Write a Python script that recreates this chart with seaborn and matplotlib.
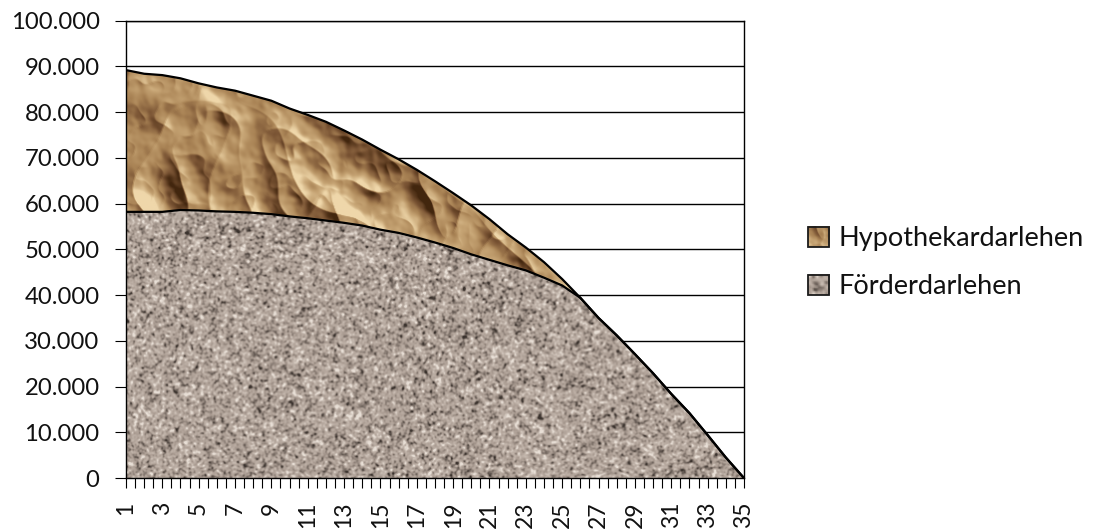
import numpy as np
import pandas as pd
import matplotlib
matplotlib.use("Agg")
import matplotlib.pyplot as plt
import seaborn as sns
from matplotlib.colors import LinearSegmentedColormap
from matplotlib.ticker import FuncFormatter, FixedLocator, MultipleLocator
from matplotlib.patches import Rectangle
from matplotlib.legend_handler import HandlerBase
from matplotlib.image import BboxImage
from matplotlib.transforms import Bbox, TransformedBbox

# ---- data: outstanding balance per year (EUR) ----
years = list(range(1, 36))
foerder = [58200, 58200, 58200, 58600, 58500, 58300, 58200, 58000, 57700, 57200,
           56800, 56300, 55800, 55200, 54300, 53600, 52600, 51500, 50300, 48900,
           47700, 46500, 45400, 43800, 42100, 39400, 35000, 31200, 27100, 22900,
           18400, 14200, 9400, 4500, 0]
hypothek = [31000, 30200, 29900, 28800, 27800, 27100, 26500, 25600, 24800, 23600,
            22600, 21600, 20200, 18800, 17500, 16100, 14800, 13400, 12000, 10700,
            8900, 6800, 5000, 3400, 1400, 0, 0, 0, 0, 0,
            0, 0, 0, 0, 0]
series_names = ["Hypothekardarlehen", "Förderdarlehen"]
x_tick_labels = list(range(1, 36, 2))
y_ticks = list(range(0, 100001, 10000))

df = pd.DataFrame({"Jahr": years, "Förderdarlehen": foerder,
                   "Hypothekardarlehen": hypothek})
df["Gesamt"] = df["Förderdarlehen"] + df["Hypothekardarlehen"]

# ---- procedural fill textures ----
rng = np.random.default_rng(11)
TH, TW = 460, 620


def blur(a, s):
    ky = np.fft.fftfreq(a.shape[0])
    kx = np.fft.fftfreq(a.shape[1])
    g = np.exp(-2 * (np.pi * s) ** 2 * (ky[:, None] ** 2 + kx[None, :] ** 2))
    return np.real(np.fft.ifft2(np.fft.fft2(a) * g))


def smooth_noise(sigma):
    b = blur(rng.standard_normal((TH, TW)), sigma)
    return (b - b.mean()) / b.std()


# granite-like fine speckle
z = 0.95 * smooth_noise(1.0) + 0.12 * smooth_noise(5)
z /= z.std()
granite_cmap = LinearSegmentedColormap.from_list(
    "granite", ["#3a322d", "#7c7068", "#ab9d93", "#c0b3a9", "#e8dfd6"])
granite_rgb = granite_cmap(np.clip(0.56 + 0.19 * z, 0, 1))

# crumpled paper: ridged height field with hill shading
h = (30 * -np.abs(smooth_noise(30)) + 14 * -np.abs(smooth_noise(14))
     + 6 * 0.6 * -np.abs(smooth_noise(6)) + 2.5 * 0.3 * smooth_noise(2.5))
gy, gx = np.gradient(h)
shade = -gx * 0.75 + gy * 0.65
shade = (shade - shade.mean()) / shade.std()
tone = 0.15 * smooth_noise(40)
paper_cmap = LinearSegmentedColormap.from_list(
    "paper", ["#42260e", "#7a5434", "#a98355", "#c6a474", "#efd7aa"])
paper_rgb = paper_cmap(np.clip(0.57 + 0.22 * shade + 0.05 * tone, 0, 1))

# ---- figure ----
sns.set_theme(style="white")
plt.rcParams["font.family"] = ["Lato", "DejaVu Sans"]
plt.rcParams["text.color"] = "#111111"

fig = plt.figure(figsize=(11.01, 5.32), dpi=100)
ax = fig.add_axes([0.1144, 0.1015, 0.5613, 0.8596])

f = df["Förderdarlehen"].to_numpy()
t = df["Gesamt"].to_numpy()
poly_f = ax.fill_between(df["Jahr"], 0, f, facecolor="none", edgecolor="none")
poly_h = ax.fill_between(df["Jahr"], f, t, facecolor="none", edgecolor="none")

for rgb, poly in ((granite_rgb, poly_f), (paper_rgb, poly_h)):
    im = ax.imshow(rgb, extent=[1, 35, 0, 100000], aspect="auto",
                   origin="upper", interpolation="bilinear", zorder=1)
    im.set_clip_path(poly.get_paths()[0], ax.transData)

sns.lineplot(data=df, x="Jahr", y="Gesamt", color="black", lw=1.6,
             ax=ax, zorder=3, legend=False)
sns.lineplot(data=df, x="Jahr", y="Förderdarlehen", color="black", lw=1.6,
             ax=ax, zorder=3, legend=False)

ax.set_xlim(1, 35)
ax.set_ylim(0, 100000)
ax.set_xlabel("")
ax.set_ylabel("")

ax.set_axisbelow(True)
ax.yaxis.grid(True, color="black", lw=1.0)
ax.xaxis.grid(False)
for sp in ax.spines.values():
    sp.set_visible(True)
    sp.set_color("black")
    sp.set_linewidth(1.0)

ax.xaxis.set_major_locator(FixedLocator(x_tick_labels))
ax.xaxis.set_minor_locator(MultipleLocator(0.5))
ax.yaxis.set_major_locator(FixedLocator(y_ticks))
ax.yaxis.set_major_formatter(
    FuncFormatter(lambda v, _: f"{int(round(v)):,}".replace(",", ".")))

ax.tick_params(axis="both", which="both", direction="out", color="black",
               width=0.8, bottom=True, left=True)
ax.tick_params(axis="x", which="both", length=7)
ax.tick_params(axis="y", which="major", length=8)
ax.tick_params(axis="x", which="major", labelrotation=90, labelsize=16.5,
               pad=10, labelcolor="#111111")
ax.tick_params(axis="y", which="major", labelsize=17.2, pad=11,
               labelcolor="#111111")


# ---- legend with texture swatches ----
class SwatchHandler(HandlerBase):
    def __init__(self, img):
        super().__init__()
        self.img = img

    def create_artists(self, legend, orig_handle, xdescent, ydescent,
                       width, height, fontsize, trans):
        bb = Bbox.from_bounds(-xdescent, -ydescent, width, height)
        image = BboxImage(TransformedBbox(bb, trans), interpolation="bilinear")
        image.set_data(self.img)
        frame = Rectangle((-xdescent, -ydescent), width, height,
                          facecolor="none", edgecolor="#1a1a1a", lw=1.3,
                          transform=trans)
        return [image, frame]


h_hyp = Rectangle((0, 0), 1, 1)
h_foe = Rectangle((0, 0), 1, 1)
fig.legend(handles=[h_hyp, h_foe], labels=series_names,
           handler_map={h_hyp: SwatchHandler(paper_rgb[200:230, 300:330]),
                        h_foe: SwatchHandler(granite_rgb[200:215, 300:315])},
           loc="center left", bbox_to_anchor=(0.734, 0.506), frameon=False,
           fontsize=19.5, handlelength=0.78, handleheight=0.78,
           handletextpad=0.33, labelspacing=0.85, borderpad=0,
           borderaxespad=0)

fig.savefig("out.png", dpi=100)
